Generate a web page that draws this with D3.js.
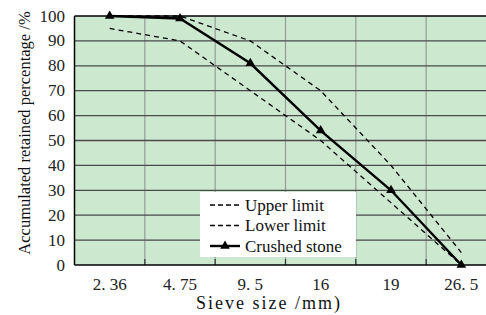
<!DOCTYPE html>
<html>
<head>
<meta charset="utf-8">
<script src="https://cdn.jsdelivr.net/npm/d3@7"></script>
<style>
  html, body { margin: 0; padding: 0; background: #fff; }
</style>
</head>
<body>
<div id="app"></div>
<script>
// data
const sizes = ["2. 36", "4. 75", "9. 5", "16", "19", "26. 5"];
const upperLimit = [100, 100, 90, 70, 40, 5];
const lowerLimit = [95, 90, 70, 50, 25, 0];
const crushedStone = [100, 99, 81, 54, 30, 0];
const yTicks = [0, 10, 20, 30, 40, 50, 60, 70, 80, 90, 100];

const width = 486, height = 315;
const serif = '"Liberation Serif", serif';
// plot runs off the right edge of the picture
const plotL = 74.5, plotT = 16, plotB = 265, plotR = 496.5;

const svg = d3.select("#app").append("svg")
  .attr("width", width)
  .attr("height", height)
  .style("display", "block");

const x = d3.scaleBand().domain(sizes).range([plotL, plotR]).padding(0);
const y = d3.scaleLinear().domain([0, 100]).range([plotB, plotT]);
const cx = s => x(s) + x.bandwidth() / 2;

// plot background
svg.append("rect")
  .attr("x", plotL).attr("y", plotT)
  .attr("width", plotR - plotL).attr("height", plotB - plotT)
  .attr("fill", "#cce8cf");

// vertical grid at category boundaries
const bounds = sizes.slice(1).map(s => x(s));
svg.append("g").selectAll("line")
  .data(bounds)
  .join("line")
  .attr("x1", d => d).attr("x2", d => d)
  .attr("y1", plotT).attr("y2", plotB)
  .attr("stroke", "#9a9a9a")
  .attr("stroke-width", 1.2);

// small ticks on x axis (inside)
svg.append("g").selectAll("line")
  .data(bounds)
  .join("line")
  .attr("x1", d => d).attr("x2", d => d)
  .attr("y1", plotB - 6).attr("y2", plotB)
  .attr("stroke", "#333")
  .attr("stroke-width", 1.2);

// horizontal grid
svg.append("g").selectAll("line")
  .data(yTicks.filter(t => t > 0 && t < 100))
  .join("line")
  .attr("x1", plotL).attr("x2", plotR)
  .attr("y1", d => y(d)).attr("y2", d => y(d))
  .attr("stroke", "#4a4a4a")
  .attr("stroke-width", 1.3);

// frame
svg.append("line").attr("x1", plotL).attr("x2", plotR).attr("y1", plotT).attr("y2", plotT)
  .attr("stroke", "#000").attr("stroke-width", 1.3);
svg.append("line").attr("x1", plotL).attr("x2", plotR).attr("y1", plotB).attr("y2", plotB)
  .attr("stroke", "#000").attr("stroke-width", 1.5);
svg.append("line").attr("x1", plotL).attr("x2", plotL).attr("y1", plotT).attr("y2", plotB)
  .attr("stroke", "#000").attr("stroke-width", 1.5);

// y tick labels
svg.append("g").selectAll("text")
  .data(yTicks)
  .join("text")
  .attr("x", 65)
  .attr("y", d => y(d) + 5.5)
  .attr("text-anchor", "end")
  .style("font-family", serif)
  .style("font-size", "17px")
  .attr("fill", "#222")
  .text(d => d);

// x tick labels
svg.append("g").selectAll("text")
  .data(sizes)
  .join("text")
  .attr("x", d => cx(d))
  .attr("y", 290)
  .attr("text-anchor", "middle")
  .style("font-family", serif)
  .style("font-size", "17px")
  .attr("fill", "#222")
  .text(d => d);

// axis titles
svg.append("text")
  .attr("x", 269).attr("y", 309)
  .attr("text-anchor", "middle")
  .style("font-family", serif)
  .style("font-size", "18px")
  .style("letter-spacing", "2px")
  .attr("fill", "#111")
  .text("Sieve size /mm)");

svg.append("text")
  .attr("transform", "translate(30,133) rotate(-90)")
  .attr("text-anchor", "middle")
  .style("font-family", serif)
  .style("font-size", "16.5px")
  .attr("fill", "#111")
  .text("Accumulated retained percentage /%");

// lines
const line = d3.line()
  .x((d, i) => cx(sizes[i]))
  .y(d => y(d));

svg.append("path").datum(upperLimit)
  .attr("d", line).attr("fill", "none")
  .attr("stroke", "#000").attr("stroke-width", 1.3)
  .attr("stroke-dasharray", "5,4");

svg.append("path").datum(lowerLimit)
  .attr("d", line).attr("fill", "none")
  .attr("stroke", "#000").attr("stroke-width", 1.3)
  .attr("stroke-dasharray", "5,4");

svg.append("path").datum(crushedStone)
  .attr("d", line).attr("fill", "none")
  .attr("stroke", "#000").attr("stroke-width", 2.4);

const tri = d3.symbol().type(d3.symbolTriangle).size(40);
svg.append("g").selectAll("path")
  .data(crushedStone)
  .join("path")
  .attr("d", tri)
  .attr("transform", (d, i) => `translate(${cx(sizes[i])},${y(d)})`)
  .attr("fill", "#000");

// legend
const lg = svg.append("g");
lg.append("rect")
  .attr("x", 200).attr("y", 192)
  .attr("width", 156).attr("height", 65)
  .attr("fill", "#fff");

const legendItems = [
  { label: "Upper limit", dash: "5,3", w: 1.3, marker: false },
  { label: "Lower limit", dash: "5,3", w: 1.3, marker: false },
  { label: "Crushed stone", dash: null, w: 2.4, marker: true }
];
legendItems.forEach((it, i) => {
  const ly = 205 + i * 20.5;
  lg.append("line")
    .attr("x1", 210).attr("x2", 240)
    .attr("y1", ly).attr("y2", ly)
    .attr("stroke", "#000").attr("stroke-width", it.w)
    .attr("stroke-dasharray", it.dash);
  if (it.marker) {
    lg.append("path").attr("d", tri)
      .attr("transform", `translate(225,${ly})`)
      .attr("fill", "#000");
  }
  lg.append("text")
    .attr("x", 245).attr("y", ly + 5.5)
    .style("font-family", serif)
    .style("font-size", "17px")
    .attr("fill", "#111")
    .text(it.label);
});
</script>
</body>
</html>
